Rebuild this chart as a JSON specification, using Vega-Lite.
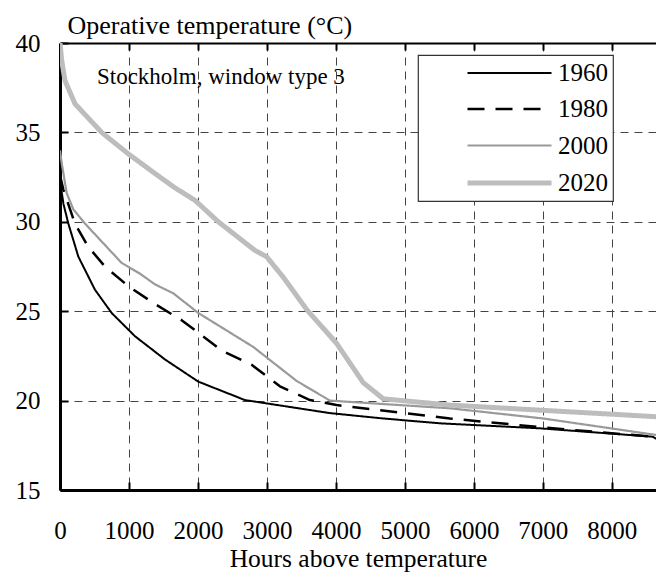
{
  "$schema": "https://vega.github.io/schema/vega-lite/v6.json",
  "width": 596,
  "height": 447,
  "autosize": {"type": "none"},
  "padding": {"left": 60, "top": 43, "right": 0, "bottom": 82},
  "background": "white",
  "config": {
    "view": {"stroke": null},
    "font": "Liberation Serif, Times New Roman, Tinos, DejaVu Serif, serif",
    "text": {"font": "Liberation Serif, Times New Roman, Tinos, DejaVu Serif, serif"},
    "axis": {"labelFont": "Liberation Serif, Times New Roman, Tinos, DejaVu Serif, serif", "titleFont": "Liberation Serif, Times New Roman, Tinos, DejaVu Serif, serif", "labelColor": "black", "titleColor": "black", "titleFontWeight": "normal"},
    "legend": {"labelFont": "Liberation Serif, Times New Roman, Tinos, DejaVu Serif, serif"}
  },
  "datasets": {
    "curves": [
      {"year": "1960", "h": 0, "t": 32.3}, {"year": "1960", "h": 50, "t": 31.0}, {"year": "1960", "h": 121, "t": 29.9}, {"year": "1960", "h": 266, "t": 28.05}, {"year": "1960", "h": 507, "t": 26.2}, {"year": "1960", "h": 749, "t": 24.9}, {"year": "1960", "h": 1087, "t": 23.6}, {"year": "1960", "h": 1522, "t": 22.3}, {"year": "1960", "h": 2005, "t": 21.06}, {"year": "1960", "h": 2681, "t": 20.03}, {"year": "1960", "h": 3913, "t": 19.3}, {"year": "1960", "h": 4686, "t": 19.0}, {"year": "1960", "h": 5507, "t": 18.73}, {"year": "1960", "h": 6957, "t": 18.45}, {"year": "1960", "h": 8594, "t": 17.98}, {"year": "1960", "h": 8760, "t": 17.6},
      {"year": "1980", "h": 0, "t": 32.6}, {"year": "1980", "h": 48, "t": 31.8}, {"year": "1980", "h": 217, "t": 29.9}, {"year": "1980", "h": 410, "t": 28.6}, {"year": "1980", "h": 652, "t": 27.5}, {"year": "1980", "h": 990, "t": 26.4}, {"year": "1980", "h": 1377, "t": 25.4}, {"year": "1980", "h": 1763, "t": 24.5}, {"year": "1980", "h": 2005, "t": 23.8}, {"year": "1980", "h": 2343, "t": 22.8}, {"year": "1980", "h": 2778, "t": 22.0}, {"year": "1980", "h": 3188, "t": 20.8}, {"year": "1980", "h": 3623, "t": 20.03}, {"year": "1980", "h": 4010, "t": 19.75}, {"year": "1980", "h": 5652, "t": 19.0}, {"year": "1980", "h": 7005, "t": 18.5}, {"year": "1980", "h": 8594, "t": 17.98}, {"year": "1980", "h": 8760, "t": 17.6},
      {"year": "2000", "h": 0, "t": 34.0}, {"year": "2000", "h": 24, "t": 33.3}, {"year": "2000", "h": 97, "t": 31.6}, {"year": "2000", "h": 193, "t": 30.7}, {"year": "2000", "h": 362, "t": 29.9}, {"year": "2000", "h": 676, "t": 28.6}, {"year": "2000", "h": 894, "t": 27.7}, {"year": "2000", "h": 1159, "t": 27.1}, {"year": "2000", "h": 1377, "t": 26.5}, {"year": "2000", "h": 1643, "t": 26.0}, {"year": "2000", "h": 2005, "t": 24.9}, {"year": "2000", "h": 2802, "t": 23.0}, {"year": "2000", "h": 3430, "t": 21.1}, {"year": "2000", "h": 3913, "t": 20.0}, {"year": "2000", "h": 5652, "t": 19.57}, {"year": "2000", "h": 7005, "t": 19.0}, {"year": "2000", "h": 8638, "t": 18.08}, {"year": "2000", "h": 8760, "t": 18.0},
      {"year": "2020", "h": 0, "t": 40.0}, {"year": "2020", "h": 24, "t": 39.05}, {"year": "2020", "h": 72, "t": 37.9}, {"year": "2020", "h": 217, "t": 36.6}, {"year": "2020", "h": 386, "t": 35.9}, {"year": "2020", "h": 604, "t": 35.0}, {"year": "2020", "h": 990, "t": 33.8}, {"year": "2020", "h": 1377, "t": 32.7}, {"year": "2020", "h": 1667, "t": 31.9}, {"year": "2020", "h": 1957, "t": 31.2}, {"year": "2020", "h": 2295, "t": 30.0}, {"year": "2020", "h": 2826, "t": 28.4}, {"year": "2020", "h": 2995, "t": 28.05}, {"year": "2020", "h": 3237, "t": 26.9}, {"year": "2020", "h": 3575, "t": 25.1}, {"year": "2020", "h": 4010, "t": 23.2}, {"year": "2020", "h": 4396, "t": 21.0}, {"year": "2020", "h": 4686, "t": 20.1}, {"year": "2020", "h": 5652, "t": 19.75}, {"year": "2020", "h": 8638, "t": 19.1}, {"year": "2020", "h": 8760, "t": 19.05}
    ],
    "note": [{"h": 536, "t": 37.7, "label": "Stockholm, window type 3"}]
  },
  "resolve": {"axis": {"x": "independent"}},
  "layer": [
    {
      "data": {"name": "curves"},
      "mark": {"type": "line", "clip": true, "strokeJoin": "round"},
      "encoding": {
        "x": {"field": "h", "type": "quantitative",
          "scale": {"domain": [0, 8640], "nice": false, "zero": false},
          "axis": {"orient": "bottom", "values": [0, 1000, 2000, 3000, 4000, 5000, 6000, 7000, 8000], "format": "d",
            "title": "Hours above temperature", "titleFontSize": 25.5, "titleX": 298, "titleY": 76, "titleBaseline": "alphabetic", "titleAlign": "center",
            "labelFontSize": 25, "labelPadding": 36, "labelBaseline": "top", "labelFlush": false,
            "domainColor": "black", "domainWidth": 3, "tickColor": "black", "tickWidth": 2, "tickSize": -8,
            "grid": true, "gridColor": "#444", "gridDash": [8, 6], "gridWidth": 1}},
        "y": {"field": "t", "type": "quantitative",
          "scale": {"domain": [15, 40], "nice": false, "zero": false},
          "axis": {"values": [15, 20, 25, 30, 35, 40], "format": "d",
            "title": "Operative temperature (°C)", "titleFontSize": 26, "titleAngle": 0, "titleX": 7, "titleY": -10, "titleAlign": "left", "titleBaseline": "alphabetic",
            "labelFontSize": 25, "labelPadding": 28,
            "domainColor": "black", "domainWidth": 3, "tickColor": "black", "tickWidth": 2, "tickSize": -8,
            "grid": true, "gridColor": "#444", "gridDash": [8, 6], "gridWidth": 1}},
        "color": {"field": "year", "type": "nominal",
          "scale": {"domain": ["1960", "1980", "2000", "2020"], "range": ["black", "black", "#9a9a9a", "#bdbdbd"]},
          "legend": {"title": null, "orient": "none", "legendX": 358, "legendY": 12,
            "strokeColor": "#333", "fillColor": "white", "padding": 5,
            "symbolType": "M-3.5,0H3.5", "symbolSize": 576, "symbolOffset": 72, "labelOffset": 34,
            "labelFontSize": 25, "labelColor": "black", "rowPadding": 9.5,
            "labelExpr": "datum.label + '\u00a0\u00a0\u00a0\u00a0\u00a0\u00a0'",
            "encode": {"legend": {"update": {"strokeWidth": {"value": 1.2}}}}}},
        "strokeDash": {"field": "year", "type": "nominal",
          "scale": {"domain": ["1960", "1980", "2000", "2020"], "range": [[1, 0], [17, 11], [1, 0], [1, 0]]}},
        "strokeWidth": {"field": "year", "type": "ordinal",
          "scale": {"type": "ordinal", "domain": ["1960", "1980", "2000", "2020"], "range": [2, 2.5, 2.2, 5]}}
      }
    },
    {
      "data": {"name": "note"},
      "mark": {"type": "text", "align": "left", "baseline": "alphabetic", "fontSize": 23, "color": "black"},
      "encoding": {
        "x": {"field": "h", "type": "quantitative",
          "scale": {"domain": [0, 8640], "nice": false, "zero": false},
          "axis": {"orient": "top", "values": [0, 1000, 2000, 3000, 4000, 5000, 6000, 7000, 8000], "labels": false, "title": null,
            "domainColor": "black", "domainWidth": 2, "tickColor": "black", "tickWidth": 2, "tickSize": -7, "grid": false}},
        "y": {"field": "t", "type": "quantitative", "scale": {"domain": [15, 40], "nice": false, "zero": false}},
        "text": {"field": "label"}
      }
    }
  ]
}
